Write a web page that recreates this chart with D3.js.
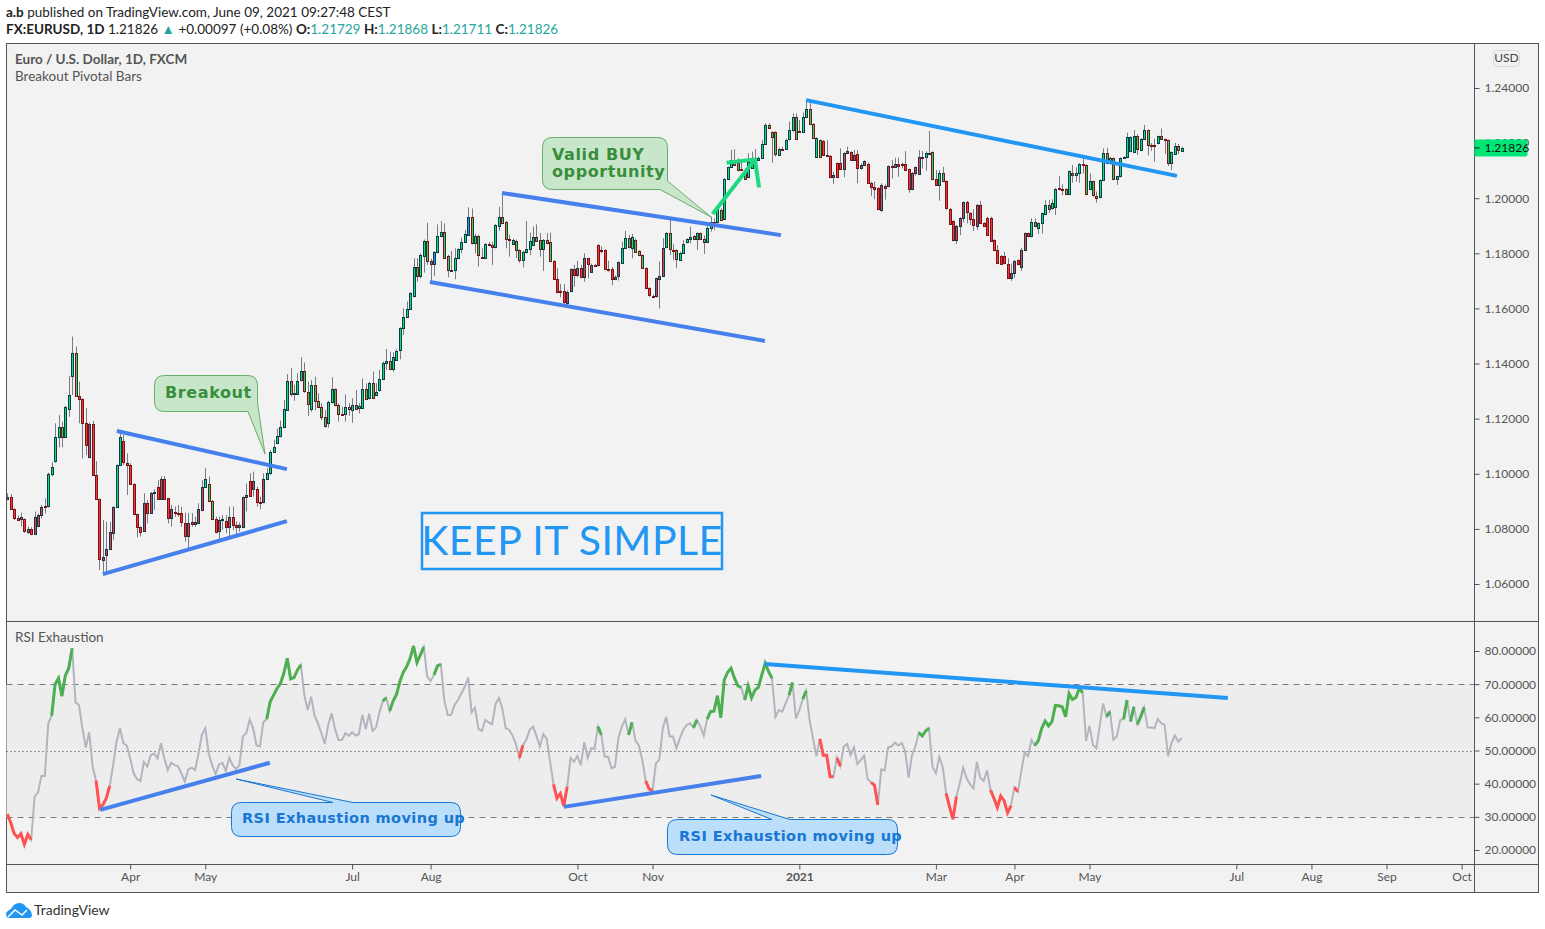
<!DOCTYPE html>
<html>
<head>
<meta charset="utf-8">
<script src="https://d3js.org/d3.v7.min.js"></script>
<style>
  body { margin: 0; background: #fff; }
  text { font-family: Lato, "Open Sans", sans-serif; }
  .callout { font-family: "DejaVu Sans", sans-serif; font-weight: bold; }
  .axis text { font-size: 12px; fill: #555; }
  .axis line { stroke: #555; }
</style>
</head>
<body>
<script>
// prices in pips (1/10000)
const opens = [
10910,10915,10871,10838,10835,10835,10791,10801,10784,10812,
10852,10883,10881,10998,11044,11132,11169,11132,11236,11353,
11437,11282,11270,11183,11062,11180,10994,10907,10687,10706,
10726,10788,10881,11032,11118,11040,11031,10963,10853,10808,
10790,10893,10856,10929,10951,10907,10980,10911,10837,10863,
10859,10856,10823,10777,10826,10820,10820,10869,10951,10963,
10902,10837,10790,10830,10827,10806,10844,10815,10806,10806,
10915,10975,10946,10946,10897,10895,10980,11002,11079,11113,
11137,11169,11234,11338,11290,11292,11338,11372,11298,11234,
11321,11263,11241,11205,11183,11259,11306,11248,11216,11214,
11241,11234,11251,11237,11241,11309,11274,11328,11285,11302,
11343,11401,11410,11381,11415,11447,11528,11568,11597,11643,
11749,11715,11793,11846,11771,11760,11804,11860,11876,11789,
11736,11738,11782,11815,11840,11867,11931,11835,11862,11788,
11784,11833,11829,11822,11900,11933,11913,11853,11836,11844,
11811,11775,11804,11815,11833,11861,11847,11815,11847,11840,
11771,11706,11665,11665,11621,11662,11742,11719,11746,11712,
11782,11734,11759,11829,11811,11811,11744,11744,11706,11715,
11767,11818,11855,11818,11850,11807,11793,11746,11673,11646,
11642,11709,11719,11821,11873,11813,11811,11778,11803,11840,
11852,11863,11851,11873,11851,11839,11891,11913,11913,11959,
11924,12069,12112,12139,12129,12105,12103,12078,12109,12137,
12141,12147,12196,12265,12239,12239,12159,12180,12180,12213,
12247,12294,12243,12241,12294,12323,12268,12149,12211,12207,
12156,12152,12076,12127,12127,12105,12163,12167,12138,12159,
12107,12119,12126,12057,12042,12036,11959,12043,12043,12116,
12116,12126,12126,12126,12105,12032,12090,12090,12151,12147,
12163,12166,12068,12047,12090,12061,11962,11916,11847,11899,
11927,11985,11945,11923,11901,11976,11911,11930,11930,11847,
11811,11792,11790,11763,11713,11731,11774,11751,11811,11872,
11861,11912,11890,11909,11945,11976,11962,11969,12037,12032,
12032,12014,12090,12083,12090,12123,12119,12032,12061,12009,
12003,12065,12163,12126,12145,12068,12079,12145,12148,12170,
12170,12227,12174,12214,12246,12192,12192,12199,12224,12214,
12210,12126,12160,12188,12173];
const closes = [
10917,10871,10837,10831,10842,10791,10801,10784,10844,10852,
10881,10881,10998,11023,11132,11169,11132,11241,11285,11437,
11282,11270,11183,11102,11180,10994,10907,10690,10697,10726,
10788,10881,11032,11132,11040,11031,10961,10853,10806,10790,
10893,10856,10929,10934,10907,10980,10907,10837,10871,10859,
10856,10823,10777,10823,10820,10826,10871,10951,10980,10902,
10837,10790,10831,10835,10806,10844,10815,10806,10815,10915,
10922,10922,10975,10900,10893,10980,11002,11079,11098,11137,
11169,11234,11338,11290,11292,11338,11372,11298,11256,11321,
11263,11241,11205,11171,11259,11306,11248,11214,11214,11241,
11234,11251,11237,11246,11309,11274,11328,11274,11296,11343,
11401,11410,11381,11425,11447,11528,11568,11597,11655,11749,
11715,11793,11846,11773,11761,11804,11862,11876,11782,11737,
11738,11782,11815,11840,11869,11931,11835,11862,11793,11784,
11833,11829,11822,11902,11933,11913,11853,11850,11850,11811,
11775,11804,11815,11844,11861,11847,11815,11847,11836,11771,
11706,11660,11660,11625,11661,11742,11719,11746,11712,11782,
11761,11759,11757,11755,11809,11742,11742,11706,11713,11767,
11821,11855,11821,11858,11807,11793,11746,11673,11646,11642,
11709,11719,11821,11873,11815,11811,11778,11803,11834,11851,
11861,11851,11873,11853,11839,11891,11913,11911,11963,11924,
12069,12112,12139,12120,12105,12103,12072,12133,12139,12141,
12147,12196,12265,12254,12221,12159,12180,12178,12213,12247,
12294,12215,12241,12294,12323,12268,12218,12218,12149,12156,
12154,12076,12083,12076,12105,12163,12170,12138,12157,12109,
12119,12134,12057,12042,12036,11959,12049,12034,12116,12114,
12126,12119,12124,12105,12032,12090,12112,12151,12149,12163,
12165,12068,12047,12090,12061,11962,11909,11847,11899,11927,
11985,11950,11923,11901,11976,11911,11901,11869,11847,11811,
11763,11763,11763,11713,11730,11773,11759,11811,11872,11861,
11912,11898,11909,11945,11976,11962,11981,12034,12032,12030,
12014,12097,12083,12090,12123,12119,12014,12061,12009,12003,
12065,12163,12126,12145,12068,12079,12145,12148,12221,12221,
12227,12181,12214,12246,12192,12190,12190,12224,12214,12210,
12126,12166,12188,12174,12183];
const highs = [
10929,10927,10875,10849,10859,10838,10808,10806,10863,10856,
10887,10911,11004,11043,11183,11213,11189,11246,11355,11498,
11462,11334,11274,11238,11186,11192,11046,10911,10832,10826,
10826,10883,11034,11144,11141,11074,11038,10965,10855,10808,
10929,10905,10934,10944,10977,10990,10992,10911,10887,10881,
10887,10881,10859,10857,10857,10844,10893,10977,11021,10990,
10905,10844,10844,10850,10850,10881,10881,10826,10823,10917,
10965,11002,11008,10953,10917,11002,11020,11086,11123,11164,
11193,11268,11362,11383,11322,11365,11423,11404,11334,11340,
11352,11292,11256,11231,11265,11350,11310,11256,11243,11288,
11256,11274,11304,11256,11346,11328,11334,11371,11328,11377,
11407,11453,11443,11441,11452,11532,11600,11625,11660,11782,
11782,11800,11850,11911,11780,11808,11905,11917,11909,11795,
11809,11818,11818,11857,11885,11967,11963,11870,11867,11818,
11837,11842,11842,11906,11969,12018,11917,11868,11854,11850,
11815,11810,11917,11875,11897,11905,11873,11852,11873,11875,
11775,11746,11688,11688,11665,11746,11758,11773,11758,11800,
11784,11763,11762,11833,11825,11815,11773,11750,11720,11770,
11842,11882,11867,11870,11854,11811,11796,11750,11677,11650,
11712,11770,11855,11877,11924,11834,11815,11806,11848,11855,
11897,11866,11876,11876,11864,11909,11933,11927,11967,11963,
12073,12115,12175,12178,12145,12139,12110,12163,12169,12178,
12151,12211,12272,12272,12243,12243,12184,12187,12216,12278,
12308,12308,12284,12311,12359,12345,12272,12222,12214,12211,
12211,12157,12096,12130,12181,12166,12187,12170,12175,12175,
12127,12138,12130,12060,12060,12040,12054,12050,12119,12138,
12147,12147,12130,12171,12108,12095,12115,12175,12172,12170,
12244,12170,12102,12102,12114,12065,11965,11920,11903,11931,
11988,11990,11950,11960,11980,11990,11914,11933,11933,11851,
11830,11795,11805,11782,11763,11776,11778,11820,11876,11875,
11927,11927,11912,11948,11993,11993,11996,12037,12080,12051,
12036,12100,12120,12112,12127,12148,12123,12090,12064,12024,
12068,12181,12183,12150,12148,12082,12148,12152,12238,12224,
12247,12232,12218,12266,12250,12200,12217,12227,12253,12216,
12213,12170,12201,12197,12187];
const lows = [
10905,10869,10832,10830,10808,10786,10781,10777,10781,10808,
10838,10856,10878,10990,11040,11096,11096,11130,11207,11286,
11280,11183,11056,11068,11056,10992,10905,10651,10633,10633,
10723,10760,10878,11028,11032,10923,10959,10850,10769,10772,
10790,10820,10854,10869,10905,10905,10905,10820,10808,10844,
10844,10808,10754,10726,10808,10808,10818,10867,10948,10899,
10832,10784,10762,10796,10784,10774,10796,10769,10790,10802,
10863,10919,10917,10881,10871,10893,10977,10996,11077,11111,
11132,11165,11232,11280,11265,11290,11335,11294,11210,11225,
11231,11238,11195,11168,11168,11255,11245,11189,11212,11189,
11210,11185,11234,11219,11238,11270,11270,11272,11282,11298,
11340,11377,11378,11371,11413,11415,11504,11566,11595,11640,
11697,11709,11730,11758,11694,11718,11800,11858,11780,11713,
11733,11706,11778,11800,11838,11865,11832,11800,11752,11780,
11781,11826,11758,11818,11882,11910,11818,11788,11832,11782,
11766,11749,11800,11794,11830,11844,11788,11736,11832,11768,
11703,11655,11640,11613,11613,11658,11679,11713,11709,11697,
11709,11731,11750,11752,11800,11739,11734,11685,11703,11701,
11765,11816,11818,11782,11805,11790,11744,11670,11642,11637,
11639,11600,11716,11818,11794,11776,11746,11776,11801,11836,
11836,11848,11812,11850,11798,11837,11879,11885,11911,11920,
11921,12067,12110,12117,12102,12100,12068,12075,12106,12103,
12139,12145,12194,12251,12129,12151,12156,12173,12177,12210,
12242,12212,12238,12238,12291,12265,12215,12146,12146,12153,
12150,12072,12052,12073,12102,12076,12160,12135,12136,12054,
12104,12117,12054,12008,11996,11956,11951,11995,12040,12072,
12113,12078,12108,12102,12020,12029,12082,12088,12108,12100,
12157,12065,12044,11991,12058,11959,11905,11844,11834,11866,
11912,11909,11903,11881,11884,11908,11897,11866,11844,11808,
11760,11757,11760,11710,11700,11711,11756,11736,11808,11858,
11858,11895,11870,11872,11942,11947,11958,11939,12029,12011,
12011,12011,12056,12060,12056,12090,12011,12029,12006,11984,
12000,12062,12123,12123,12065,12048,12076,12142,12145,12167,
12167,12157,12171,12211,12155,12172,12132,12196,12211,12160,
12117,12102,12157,12160,12171];

// body colour runs from the indicator: [first bar, last bar, state]
const fillRuns = [[0,11,"r"],[12,20,"g"],[21,31,"r"],[32,33,"g"],[34,57,"r"],[58,60,"g"],[61,75,"r"],
  [76,123,"g"],[124,125,"b"],[126,134,"g"],[135,135,"b"],[136,159,"g"],[160,179,"r"],[180,186,"g"],
  [187,192,"r"],[193,238,"g"],[239,268,"r"],[269,271,"g"],[272,272,"r"],[273,274,"g"],[275,299,"r"],[300,344,"g"]];

const rsi = [
30.8,28.3,25.0,23.8,24.9,21.7,24.7,23.1,36.1,37.3,
42.3,42.3,58.2,60.5,70.0,71.8,66.4,72.6,74.8,80.8,
64.5,63.7,56.7,50.9,55.5,45.1,40.9,32.6,33.6,35.6,
39.3,45.6,52.7,56.7,52.2,51.5,47.6,43.1,41.4,40.8,
46.6,45.1,48.6,49.1,47.6,52.2,47.6,44.1,46.3,45.6,
45.3,43.1,40.6,44.3,44.8,44.1,49.1,54.7,56.7,49.1,
45.6,42.8,45.8,46.3,43.9,47.8,45.6,44.4,45.6,54.2,
55.2,59.3,56.7,51.5,51.2,58.5,59.5,64.7,66.7,68.7,
70.2,73.3,77.8,71.6,72.0,74.3,75.8,66.7,62.2,66.2,
60.5,58.2,55.2,52.0,57.7,61.2,56.5,53.2,53.2,55.2,
54.4,55.5,54.5,54.9,60.7,56.5,61.1,55.9,56.9,61.5,
64.9,65.9,61.9,64.9,66.9,70.8,73.6,75.3,77.8,81.5,
76.5,78.8,81.2,72.3,71.0,72.8,75.5,76.0,65.2,60.7,
60.7,63.7,65.2,67.2,69.2,72.0,61.5,62.9,56.5,55.9,
59.2,58.5,57.9,63.9,65.9,62.7,56.7,56.2,54.5,51.9,
47.8,51.5,53.2,56.2,57.2,54.4,51.2,54.9,53.5,46.6,
39.8,35.6,37.0,33.3,39.1,47.8,46.6,48.4,45.6,52.5,
47.8,50.7,50.5,57.2,54.7,48.1,48.1,44.6,45.1,53.7,
57.2,59.4,54.7,58.5,53.0,51.5,47.1,40.8,38.4,37.9,
46.1,47.3,56.7,60.2,54.2,54.2,50.7,53.7,56.2,57.7,
58.2,56.9,59.2,57.2,54.5,59.5,61.7,61.9,66.5,59.9,
71.3,73.6,74.8,71.8,69.5,69.0,65.2,69.5,65.9,68.2,
69.0,72.8,76.3,73.8,71.8,60.2,62.2,61.7,64.2,66.7,
70.5,59.7,62.2,65.5,68.0,59.2,53.7,48.3,53.5,48.6,
48.6,42.1,42.1,47.8,45.3,51.2,52.0,48.6,50.9,45.9,
47.1,48.4,41.4,40.4,39.6,33.6,44.3,44.0,51.0,51.2,
52.4,51.5,52.3,49.8,41.8,48.6,51.2,55.4,54.4,55.9,
56.7,45.1,43.1,48.0,45.1,37.1,33.0,29.3,36.1,40.1,
44.8,41.6,39.8,38.6,46.6,41.8,40.8,44.0,38.1,35.6,
32.8,36.3,34.8,31.2,33.4,38.9,37.6,43.6,49.4,48.3,
53.2,51.5,53.0,56.7,58.9,57.4,58.7,63.6,63.5,63.2,
60.2,67.2,65.4,66.0,68.7,67.4,52.9,57.5,51.7,50.7,
57.5,64.2,60.2,61.7,53.2,54.2,59.2,59.5,65.2,58.7,
63.2,57.9,60.2,63.0,56.9,56.9,56.7,59.5,58.2,57.7,
48.3,52.2,54.5,52.7,53.7];
const rsiRed = [[0,7],[26,30],[150,151],[160,164],[187,189],[238,242],[243,244],[253,255],[275,278],[288,294],[295,296]];
const rsiGreen = [[13,19],[76,86],[110,111],[112,122],[125,127],[173,174],[182,183],[201,202],[205,215],[216,224],
  [229,230],[233,234],[267,270],[301,315],[322,323],[327,328],[329,330],[331,333]];

const priceTicks = [1.06,1.08,1.10,1.12,1.14,1.16,1.18,1.20,1.22,1.24];
const rsiTicks = [20,30,40,50,60,70,80];
const monthBars = [36,58,101,124,167,189,232,272,295,317,360,382,404,426];
const monthLabels = ["Apr","May","Jul","Aug","Oct","Nov","2021","Mar","Apr","May","Jul","Aug","Sep","Oct"];
const lastPrice = 1.21826;

// drawn lines: [bar, price] or [bar, rsi] end points
const priceLines = [
  {color:"#4680ec", pts:[[32.1,1.1155],[81.9,1.1017]]},
  {color:"#4680ec", pts:[[28,1.0636],[81.9,1.0828]]},
  {color:"#4680ec", pts:[[144.9,1.2019],[226.6,1.1866]]},
  {color:"#4680ec", pts:[[123.8,1.1696],[221.9,1.1482]]},
  {color:"#2196f3", pts:[[234,1.2356],[342.6,1.2081]]},
  {color:"#1ed882", pts:[[206.6,1.1943],[219,1.2141]]},
  {color:"#1ed882", pts:[[210.7,1.2129],[219,1.2141],[220.2,1.2039]]}
];
const rsiLines = [
  {color:"#4680ec", pts:[[27.2,32.1],[76.9,46.3]]},
  {color:"#4680ec", pts:[[163,33],[220.8,42.3]]},
  {color:"#2196f3", pts:[[221.9,76.1],[357.5,65.8]]}
];

const svg = d3.select("body").append("svg").attr("width",1545).attr("height",929).style("display","block");

const frame = {left:6.5, right:1538.5, top:43.5, bottom:892.5, axisX:1474.5, paneSplit:621.5, timeY:864.5};
const x = d3.scaleLinear().domain([0,344]).range([7.3,1181.7]);
const yPrice = d3.scaleLinear().domain([1.06,1.24]).range([584,88]);
const yRsi = d3.scaleLinear().domain([20,80]).range([850,651]);

// header
const hdr = svg.append("g").attr("font-size",13.5).attr("fill","#222");
const h1 = hdr.append("text").attr("x",6).attr("y",17);
h1.append("tspan").attr("font-weight","bold").text("a.b");
h1.append("tspan").text(" published on TradingView.com, June 09, 2021 09:27:48 CEST");
const h2 = hdr.append("text").attr("x",6).attr("y",34);
h2.append("tspan").attr("font-weight","bold").text("FX:EURUSD, 1D");
h2.append("tspan").text("  1.21826 ");
h2.append("tspan").attr("fill","#26a69a").text("▲");
h2.append("tspan").text(" +0.00097 (+0.08%) ");
[["O:","1.21729"],["H:","1.21868"],["L:","1.21711"],["C:","1.21826"]].forEach(function(p){
  h2.append("tspan").attr("font-weight","bold").text(p[0]);
  h2.append("tspan").attr("fill","#26a69a").text(p[1]+" ");
});

// panes
svg.append("rect").attr("x",frame.left).attr("y",frame.top)
  .attr("width",frame.right-frame.left).attr("height",frame.bottom-frame.top)
  .attr("fill","#f2f2f2").attr("stroke","#555");

svg.append("clipPath").attr("id","main").append("rect").attr("x",frame.left).attr("y",frame.top)
  .attr("width",frame.axisX-frame.left).attr("height",frame.paneSplit-frame.top);
svg.append("clipPath").attr("id","lower").append("rect").attr("x",frame.left).attr("y",frame.paneSplit)
  .attr("width",frame.axisX-frame.left).attr("height",frame.timeY-frame.paneSplit);

// rsi band and levels
svg.append("rect").attr("x",frame.left).attr("width",frame.axisX-frame.left)
  .attr("y",yRsi(70)).attr("height",yRsi(30)-yRsi(70)).attr("fill","#ededed");
[[70,"6,5","#787b86"],[30,"6,5","#787b86"],[50,"1,3","#333"]].forEach(function(l){
  svg.append("line").attr("x1",frame.left).attr("x2",frame.axisX)
    .attr("y1",Math.round(yRsi(l[0]))+0.5).attr("y2",Math.round(yRsi(l[0]))+0.5)
    .attr("stroke",l[2]).attr("stroke-dasharray",l[1]);
});

// candles
const bars = opens.map(function(o,i){
  const run = fillRuns.find(function(r){ return i>=r[0] && i<=r[1]; });
  return {i:i, o:o/1e4, c:closes[i]/1e4, h:highs[i]/1e4, l:lows[i]/1e4, s:run[2]};
});
const fills = {g:"#00e676", r:"#f6363c", b:"#2196f3"};
const gMain = svg.append("g").attr("clip-path","url(#main)");
const px = function(d){ return Math.round(x(d.i)); };

gMain.selectAll("line.wick").data(bars).join("line").attr("class","wick")
  .attr("x1",function(d){ return px(d)+0.5; }).attr("x2",function(d){ return px(d)+0.5; })
  .attr("y1",function(d){ return yPrice(d.h); }).attr("y2",function(d){ return yPrice(d.l); })
  .attr("stroke","#787b86");
gMain.selectAll("rect.body").data(bars).join("rect").attr("class","body")
  .attr("x",function(d){ return px(d)-0.5; }).attr("width",2)
  .attr("y",function(d){ return Math.round(yPrice(Math.max(d.o,d.c)))+0.5; })
  .attr("height",function(d){ return Math.max(1,Math.round(Math.abs(yPrice(d.o)-yPrice(d.c)))); })
  .attr("fill",function(d){ return fills[d.s]; })
  .attr("stroke",function(d){ return d.c>=d.o ? "#0d3b4c" : "#7a1414"; });

// rsi
const gLow = svg.append("g").attr("clip-path","url(#lower)");
const rsiLine = d3.line().x(function(d){ return x(d[0]); }).y(function(d){ return yRsi(d[1]); });
const rsiPts = rsi.map(function(v,i){ return [i,v]; });
gLow.append("path").attr("d",rsiLine(rsiPts)).attr("fill","none").attr("stroke","#b2b5be").attr("stroke-width",2);
[[rsiRed,"#ff5252"],[rsiGreen,"#4caf50"]].forEach(function(g){
  g[0].forEach(function(r){
    gLow.append("path").attr("d",rsiLine(rsiPts.slice(r[0],r[1]+1)))
      .attr("fill","none").attr("stroke",g[1]).attr("stroke-width",3);
  });
});

// trend lines
const priceLineGen = d3.line().x(function(d){ return x(d[0]); }).y(function(d){ return yPrice(d[1]); });
priceLines.forEach(function(l){
  svg.append("path").attr("d",priceLineGen(l.pts)).attr("fill","none").attr("stroke",l.color).attr("stroke-width",4);
});
rsiLines.forEach(function(l){
  svg.append("path").attr("d",rsiLine(l.pts)).attr("fill","none").attr("stroke",l.color).attr("stroke-width",4);
});

// callouts
function callout(b){
  const r = 10;
  const d = "M"+(b.x+r)+" "+b.y+
    (b.tailTop ? "L"+b.base[0]+" "+b.y+"L"+b.tip[0]+" "+b.tip[1]+"L"+b.base[1]+" "+b.y : "")+
    "L"+(b.x+b.w-r)+" "+b.y+"Q"+(b.x+b.w)+" "+b.y+" "+(b.x+b.w)+" "+(b.y+r)+
    (b.tailRight ? "L"+(b.x+b.w)+" "+b.tailRight+"L"+b.tip[0]+" "+b.tip[1]+"L"+b.base[0]+" "+(b.y+b.h) :
      "L"+(b.x+b.w)+" "+(b.y+b.h-r)+"Q"+(b.x+b.w)+" "+(b.y+b.h)+" "+(b.x+b.w-r)+" "+(b.y+b.h))+
    "L"+(b.x+r)+" "+(b.y+b.h)+"Q"+b.x+" "+(b.y+b.h)+" "+b.x+" "+(b.y+b.h-r)+
    "L"+b.x+" "+(b.y+r)+"Q"+b.x+" "+b.y+" "+(b.x+r)+" "+b.y+"Z";
  svg.append("path").attr("d",d).attr("fill",b.fill).attr("stroke",b.stroke);
  b.lines.forEach(function(t,i){
    svg.append("text").attr("class","callout").attr("x",b.tx).attr("y",b.ty+i*b.lh)
      .attr("font-size",b.fs).attr("fill",b.color).attr("letter-spacing",b.ls).text(t);
  });
}
const greenBox = {fill:"#c8e6c9", stroke:"#66ad6a", color:"#388e3c", fs:16, ls:0.6};
const blueBox = {fill:"#bbdefb", stroke:"#1976d2", color:"#1976d2", fs:14.5, ls:0.4};
callout(Object.assign({x:154.5,y:375.5,w:103,h:36,tailRight:403,tip:[265,454],base:[248],lines:["Breakout"],tx:165,ty:398,lh:0},greenBox));
callout(Object.assign({x:542.5,y:137.5,w:125,h:52,tailRight:181,tip:[711,217],base:[660],lines:["Valid BUY","opportunity"],tx:552,ty:160,lh:17},greenBox));
callout(Object.assign({x:231.5,y:802.5,w:229,h:34,tailTop:true,tip:[236,779],base:[333,353],lines:["RSI Exhaustion moving up"],tx:242,ty:823,lh:0},blueBox));
callout(Object.assign({x:667.5,y:819.5,w:230,h:35,tailTop:true,tip:[711,795],base:[772,790],lines:["RSI Exhaustion moving up"],tx:679,ty:841,lh:0},blueBox));

// keep it simple
svg.append("rect").attr("x",422).attr("y",513).attr("width",300).attr("height",56)
  .attr("fill","none").attr("stroke","#2196f3").attr("stroke-width",2.5);
svg.append("text").attr("x",572).attr("y",555).attr("text-anchor","middle").attr("font-size",41)
  .attr("fill","#2196f3").attr("letter-spacing",0.5).text("KEEP IT SIMPLE");

// pane titles
svg.append("text").attr("x",15).attr("y",64).attr("font-size",13.5).attr("font-weight","bold").attr("fill","#555").text("Euro / U.S. Dollar, 1D, FXCM");
svg.append("text").attr("x",15).attr("y",81).attr("font-size",13.5).attr("fill","#555").text("Breakout Pivotal Bars");
svg.append("text").attr("x",15).attr("y",642).attr("font-size",13.5).attr("fill","#555").text("RSI Exhaustion");

// frame lines
[[frame.axisX,frame.top,frame.axisX,frame.bottom],[frame.left,frame.paneSplit,frame.right,frame.paneSplit],[frame.left,frame.timeY,frame.right,frame.timeY]].forEach(function(l){
  svg.append("line").attr("x1",l[0]).attr("y1",l[1]).attr("x2",l[2]).attr("y2",l[3]).attr("stroke","#555");
});

// axes
const priceAxis = d3.axisRight(yPrice).tickValues(priceTicks).tickFormat(d3.format(".5f")).tickSize(5).tickPadding(5);
svg.append("g").attr("class","axis").attr("transform","translate("+frame.axisX+",0)").call(priceAxis).call(function(g){ g.select(".domain").remove(); });
const rsiAxis = d3.axisRight(yRsi).tickValues(rsiTicks).tickFormat(d3.format(".5f")).tickSize(5).tickPadding(5);
svg.append("g").attr("class","axis").attr("transform","translate("+frame.axisX+",0)").call(rsiAxis).call(function(g){ g.select(".domain").remove(); });
const timeAxis = d3.axisBottom(x).tickValues(monthBars).tickFormat(function(d){ return monthLabels[monthBars.indexOf(d)]; }).tickSize(5).tickPadding(3);
svg.append("g").attr("class","axis").attr("transform","translate(0,"+frame.timeY+")").call(timeAxis)
  .call(function(g){
    g.select(".domain").remove();
    g.selectAll("text").filter(function(d){ return monthLabels[monthBars.indexOf(d)]==="2021"; }).attr("font-weight","bold");
  });

// last price tag
const tagY = yPrice(lastPrice);
svg.append("path").attr("d","M"+frame.axisX+" "+(tagY-8.5)+"h51q2 0 2 2v13q0 2 -2 2h-51z").attr("fill","#00e676");
svg.append("text").attr("x",1484.5).attr("y",tagY+4).attr("font-size",12).attr("fill","#111").text(d3.format(".5f")(lastPrice));
svg.append("line").attr("x1",frame.axisX).attr("x2",frame.axisX+5).attr("y1",tagY).attr("y2",tagY).attr("stroke","#111");

// currency badge
svg.append("rect").attr("x",1493.5).attr("y",50.5).attr("width",26).attr("height",16).attr("rx",4).attr("fill","#f2f2f2").attr("stroke","#d6d8e0");
svg.append("text").attr("x",1506.5).attr("y",62).attr("text-anchor","middle").attr("font-size",12).attr("fill","#444").text("USD");

// logo
svg.append("path").attr("d","M6 913Q8 910 11 909Q14 903 19 903Q24 903 26 907Q31 909 32 915Q32 918 29 918L9 918Q6 918 6 913Z").attr("fill","#2196f3");
svg.append("path").attr("d","M8 917L15 910L22 915L27 910").attr("fill","none").attr("stroke","#fff").attr("stroke-width",1.5);
svg.append("text").attr("x",34).attr("y",915).attr("font-size",14).attr("fill","#333").text("TradingView");
</script>
</body>
</html>
